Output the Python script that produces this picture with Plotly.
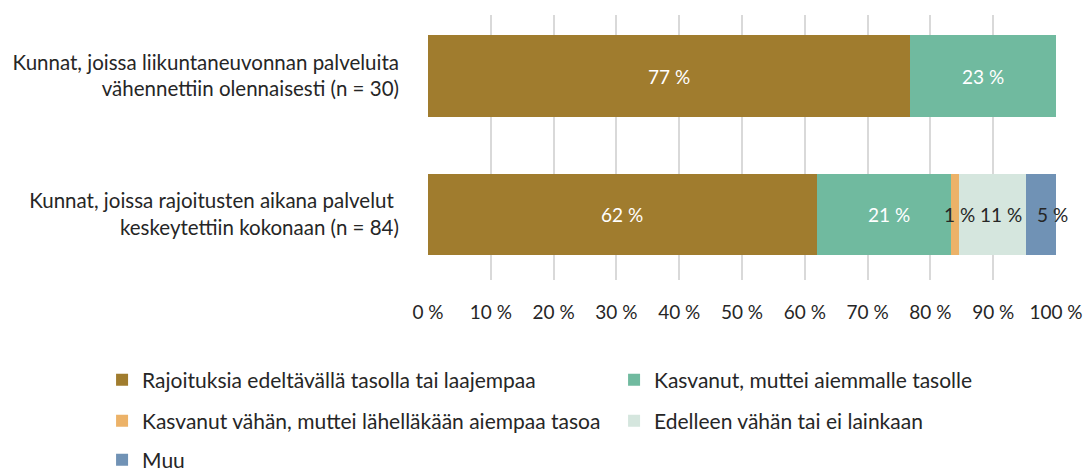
import plotly.graph_objects as go

categories = [
    "Kunnat, joissa liikuntaneuvonnan palveluita<br>vähennettiin olennaisesti (n = 30)",
    "Kunnat, joissa rajoitusten aikana palvelut <br>keskeytettiin kokonaan (n = 84)",
]
series_names = [
    "Rajoituksia edeltävällä tasolla tai laajempaa",
    "Kasvanut, muttei aiemmalle tasolle",
    "Kasvanut vähän, muttei lähelläkään aiempaa tasoa",
    "Edelleen vähän tai ei lainkaan",
    "Muu",
]
# percentages per category (top, bottom)
values = [
    [76.7, 61.9],
    [23.3, 21.4],
    [0.0, 1.2],
    [0.0, 10.7],
    [0.0, 4.8],
]
colors = ["#A07C2E", "#70BA9F", "#ECB268", "#D5E6DE", "#7092B5"]
label_colors = ["#FFFFFF", "#FFFFFF", "#262626", "#262626", "#262626"]
legend_ids = ["legend", "legend", "legend2", "legend2", "legend3"]
# small horizontal nudges (px) of data labels in the lower bar, as in the original
label_nudge_px = [[0, 0], [0, 5], [0, 5], [0, 9], [0, 12]]
tick_vals = [0, 10, 20, 30, 40, 50, 60, 70, 80, 90, 100]
tick_text = [f"{v} %" for v in tick_vals]

FONT = "Lato, Carlito, Calibri, sans-serif"
TXT = "#262626"

fig = go.Figure()
for name, vals, col, lg in zip(series_names, values, colors, legend_ids):
    fig.add_trace(go.Bar(
        y=categories, x=vals, name=name, orientation="h",
        marker=dict(color=col, line=dict(width=0)),
        legend=lg, hoverinfo="skip",
    ))

# data labels on top of all bars, at the middle of each stacked segment
for ci, cat in enumerate(categories):
    base = 0.0
    for si, vals in enumerate(values):
        v = vals[ci]
        if v > 0:
            fig.add_annotation(
                x=base + v / 2, y=cat, xref="x", yref="y",
                text=f"{round(v)} %", showarrow=False,
                xshift=label_nudge_px[si][ci],
                font=dict(family=FONT, size=19, color=label_colors[si]),
            )
        base += v

W, H = 1084, 471
ml, mr, mt, mb = 428, 28, 15, 191
ph = H - mt - mb

def ly(px):
    return -(px - (H - mb)) / ph

leg_common = dict(orientation="h", xanchor="left", yanchor="middle",
                  x=-0.519, entrywidth=467, entrywidthmode="pixels",
                  itemwidth=30, traceorder="normal",
                  font=dict(family=FONT, size=21, color=TXT),
                  bgcolor="rgba(0,0,0,0)")

fig.update_layout(
    width=W, height=H,
    barmode="stack", bargap=0.415,
    plot_bgcolor="white", paper_bgcolor="white",
    margin=dict(l=ml, r=mr, t=mt, b=mb, autoexpand=False),
    font=dict(family=FONT, size=19, color=TXT),
    showlegend=True,
    legend=dict(leg_common, y=ly(380)),
    legend2=dict(leg_common, y=ly(421)),
    legend3=dict(leg_common, y=ly(460)),
)
fig.update_xaxes(
    range=[0, 100], tickvals=tick_vals, ticktext=tick_text,
    showgrid=True, gridcolor="#D9D9D9", gridwidth=1.5,
    zeroline=False, showline=False, ticks="",
    ticklabelstandoff=19,
    tickfont=dict(family=FONT, size=19, color=TXT),
    fixedrange=True,
)
fig.update_yaxes(
    categoryorder="array", categoryarray=categories[::-1],
    range=[-0.4729, 1.4404],
    showgrid=False, zeroline=False, showline=False, ticks="",
    ticklabelstandoff=28,
    tickfont=dict(family=FONT, size=20.5, color=TXT),
    fixedrange=True,
)

fig.write_html("out.html", config={"displayModeBar": False},
               post_script="document.body.style.margin='0';")
